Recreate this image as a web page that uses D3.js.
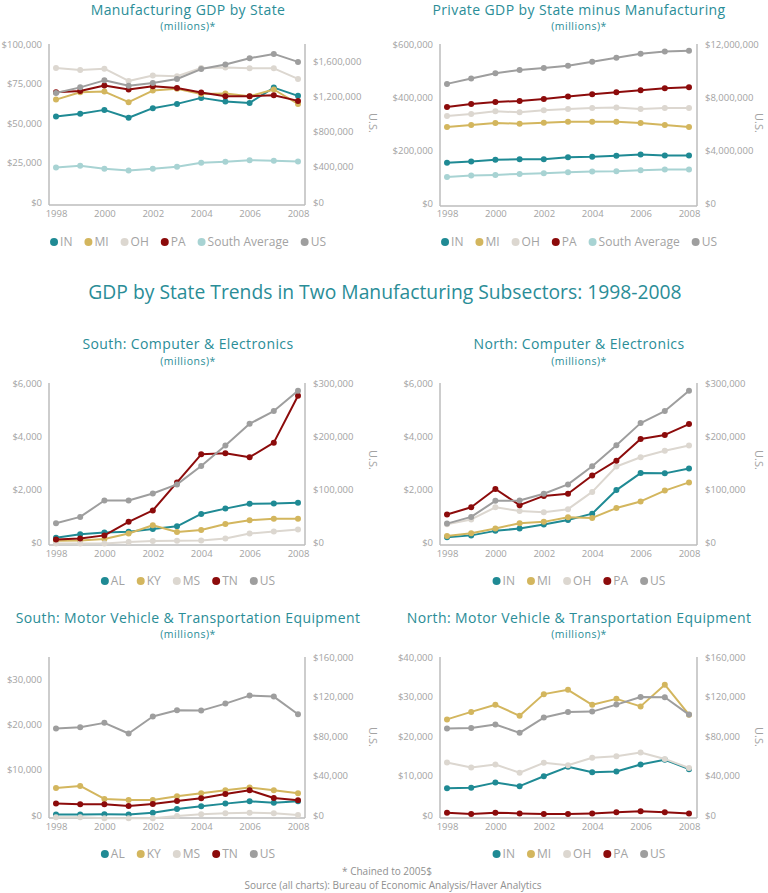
<!DOCTYPE html>
<html>
<head>
<meta charset="utf-8">
<script src="https://cdn.jsdelivr.net/npm/d3@7"></script>
<style>
  html, body { margin: 0; padding: 0; background: #fff; }
  svg { display: block; font-family: "Open Sans", "Noto Sans", sans-serif; }
</style>
</head>
<body>
<svg id="chart" width="768" height="893"></svg>
<script>
// ---------- DATA ----------
const years = [1998, 1999, 2000, 2001, 2002, 2003, 2004, 2005, 2006, 2007, 2008];
const yearTicks = [1998, 2000, 2002, 2004, 2006, 2008];

// Panel 1: Manufacturing GDP by State (millions)
const mfgIN   = [54.1, 55.8, 58.3, 53.3, 59.4, 62.1, 65.9, 63.6, 62.7, 72.4, 67.2].map(v => v * 1000);
const mfgMI   = [64.8, 69.5, 69.9, 63.2, 70.5, 71.6, 68.4, 68.6, 66.9, 71.2, 62.1].map(v => v * 1000);
const mfgOH   = [84.8, 83.6, 84.4, 76.6, 80.0, 79.6, 84.8, 85.1, 84.6, 84.6, 77.9].map(v => v * 1000);
const mfgPA   = [69.5, 70.3, 73.7, 71.2, 73.3, 72.2, 69.3, 66.9, 66.9, 67.6, 64.0].map(v => v * 1000);
const mfgSAvg = [21.9, 22.9, 21.1, 20.0, 21.1, 22.3, 24.8, 25.5, 26.5, 26.1, 25.7].map(v => v * 1000);
const mfgUS   = [1242, 1306, 1386, 1325, 1355, 1401, 1514, 1566, 1638, 1687, 1596].map(v => v * 1000);

// Panel 2: Private GDP by State minus Manufacturing (millions)
const prvIN   = [151.6, 156.6, 162.9, 165.5, 165.5, 173.1, 174.3, 178.1, 183.2, 179.4, 179.4].map(v => v * 1000);
const prvMI   = [286.7, 294.3, 301.9, 299.4, 303.2, 306.9, 306.9, 306.9, 301.9, 294.3, 286.7].map(v => v * 1000);
const prvOH   = [328.4, 336.0, 346.1, 342.3, 349.9, 354.9, 358.7, 360.0, 354.9, 358.7, 358.7].map(v => v * 1000);
const prvPA   = [362.5, 373.9, 381.5, 385.3, 392.8, 401.7, 410.5, 418.1, 425.7, 433.3, 437.1].map(v => v * 1000);
const prvSAvg = [98.5, 103.6, 106.1, 109.9, 112.4, 116.2, 118.7, 120.0, 123.8, 126.3, 126.3].map(v => v * 1000);
const prvUS   = [8.99, 9.40, 9.80, 10.03, 10.18, 10.36, 10.66, 10.96, 11.27, 11.44, 11.49].map(v => v * 1e6);

// Panel 3: South Computer & Electronics
const sceAL = [164, 290, 354, 390, 490, 590, 1060, 1260, 1440, 1450, 1480];
const sceKY = [50, 60, 110, 320, 630, 380, 450, 680, 820, 880, 880];
const sceMS = [-60, -60, -60, 0, 40, 50, 60, 130, 320, 400, 470];
const sceTN = [90, 130, 250, 760, 1190, 2250, 3310, 3350, 3200, 3750, 5520];
const sceUS = [35400, 47400, 78300, 78300, 91600, 108700, 143400, 181900, 223000, 247000, 285500];

// Panel 4: North Computer & Electronics
const nceIN = [180, 250, 420, 510, 660, 830, 1070, 1960, 2600, 2590, 2770];
const nceMI = [230, 330, 510, 710, 760, 930, 910, 1280, 1530, 1940, 2250];
const nceOH = [670, 850, 1310, 1170, 1120, 1240, 1890, 2850, 3200, 3440, 3640];
const ncePA = [1040, 1310, 2000, 1390, 1740, 1820, 2510, 3070, 3890, 4040, 4450];
const nceUS = [34700, 47400, 77700, 78300, 91000, 108700, 142800, 182600, 224300, 247000, 285500];

// Panel 5: South Motor Vehicle & Transportation Equipment
const smvAL = [100, 100, 150, 100, 520, 1330, 1930, 2520, 3040, 2740, 3040];
const smvKY = [6000, 6440, 3560, 3330, 3330, 4150, 4810, 5480, 6070, 5480, 4810];
const smvMS = [-500, -500, -700, -700, -700, -200, 150, 370, 520, 370, 0];
const smvTN = [2520, 2370, 2370, 2000, 2440, 3110, 3700, 4670, 5480, 3780, 3260];
const smvUS = [87500, 88900, 93300, 82500, 99700, 106100, 105700, 112800, 120900, 119900, 102000];

// Panel 6: North Motor Vehicle & Transportation Equipment
const nmvIN = [6800, 6900, 8200, 7300, 9800, 12200, 10800, 11000, 12800, 14000, 11600];
const nmvMI = [24200, 26100, 27900, 25100, 30600, 31700, 27900, 29400, 27500, 33000, 25400];
const nmvOH = [13300, 12000, 12800, 10700, 13200, 12600, 14500, 14900, 15800, 14200, 11900];
const nmvPA = [600, 250, 600, 400, 250, 250, 400, 670, 930, 670, 400];
const nmvUS = [87500, 88200, 91600, 83200, 98700, 104400, 104700, 111800, 119500, 119200, 101700];

// Tick values
const ticksMfgL = [0, 25000, 50000, 75000, 100000];
const ticksMfgR = [0, 400000, 800000, 1200000, 1600000];
const ticksPrvL = [0, 200000, 400000, 600000];
const ticksPrvR = [0, 4000000, 8000000, 12000000];
const ticksCeL  = [0, 2000, 4000, 6000];
const ticksCeR  = [0, 100000, 200000, 300000];
const ticksSmvL = [0, 10000, 20000, 30000];
const ticksNmvL = [0, 10000, 20000, 30000, 40000];
const ticksMvR  = [0, 40000, 80000, 120000, 160000];

// Text
const mainTitle = "GDP by State Trends in Two Manufacturing Subsectors: 1998-2008";
const subTitle = "(millions)*";
const usLabel = "U.S.";
const footnote1 = "* Chained to 2005$";
const footnote2 = "Source (all charts): Bureau of Economic Analysis/Haver Analytics";

// ---------- STYLE ----------
const C = {
  teal: "#1f8a94", gold: "#d3b65e", lgray: "#dcd7d0", red: "#8c0b0b",
  lteal: "#a8d3d3", gray: "#9e9e9e", title: "#2a8d97", text: "#a3a3a3", axis: "#bdbdbd"
};

const panels = [
  { title: "Manufacturing GDP by State", cx: 188, titleY: 14.5, subY: 29.5,
    ax0: 49, ax1: 305, xs: 56, xe: 298, yTop: 44, yZero: 202,
    lMax: 100000, lTicks: ticksMfgL, rMax: 1800000, rTicks: ticksMfgR,
    xLabY: 221, legY: 242, usX: 369, usY: 123,
    series: [
      { name: "IN", vals: mfgIN, color: C.teal },
      { name: "MI", vals: mfgMI, color: C.gold },
      { name: "OH", vals: mfgOH, color: C.lgray },
      { name: "PA", vals: mfgPA, color: C.red },
      { name: "South Average", vals: mfgSAvg, color: C.lteal },
      { name: "US", vals: mfgUS, color: C.gray, right: true } ] },
  { title: "Private GDP by State minus Manufacturing", cx: 579, titleY: 14.5, subY: 29.5,
    ax0: 440, ax1: 697, xs: 447, xe: 689, yTop: 44, yZero: 203,
    lMax: 600000, lTicks: ticksPrvL, rMax: 12000000, rTicks: ticksPrvR,
    xLabY: 221, legY: 242, usX: 755, usY: 123,
    series: [
      { name: "IN", vals: prvIN, color: C.teal },
      { name: "MI", vals: prvMI, color: C.gold },
      { name: "OH", vals: prvOH, color: C.lgray },
      { name: "PA", vals: prvPA, color: C.red },
      { name: "South Average", vals: prvSAvg, color: C.lteal },
      { name: "US", vals: prvUS, color: C.gray, right: true } ] },
  { title: "South: Computer & Electronics", cx: 188, titleY: 349, subY: 364.5,
    ax0: 49, ax1: 305, xs: 56, xe: 298, yTop: 383, yZero: 542,
    lMax: 6000, lTicks: ticksCeL, rMax: 300000, rTicks: ticksCeR,
    xLabY: 561, legY: 581, usX: 369, usY: 460,
    series: [
      { name: "AL", vals: sceAL, color: C.teal },
      { name: "KY", vals: sceKY, color: C.gold },
      { name: "MS", vals: sceMS, color: C.lgray },
      { name: "TN", vals: sceTN, color: C.red },
      { name: "US", vals: sceUS, color: C.gray, right: true } ] },
  { title: "North: Computer & Electronics", cx: 579, titleY: 349, subY: 364.5,
    ax0: 440, ax1: 697, xs: 447, xe: 689, yTop: 383, yZero: 542,
    lMax: 6000, lTicks: ticksCeL, rMax: 300000, rTicks: ticksCeR,
    xLabY: 561, legY: 581, usX: 755, usY: 460,
    series: [
      { name: "IN", vals: nceIN, color: C.teal },
      { name: "MI", vals: nceMI, color: C.gold },
      { name: "OH", vals: nceOH, color: C.lgray },
      { name: "PA", vals: ncePA, color: C.red },
      { name: "US", vals: nceUS, color: C.gray, right: true } ] },
  { title: "South: Motor Vehicle & Transportation Equipment", cx: 188, titleY: 622.5, subY: 638,
    ax0: 49, ax1: 305, xs: 56, xe: 298, yTop: 657, yZero: 815,
    lMax: 35000, lTicks: ticksSmvL, rMax: 160000, rTicks: ticksMvR,
    xLabY: 834, legY: 854, usX: 369, usY: 737,
    series: [
      { name: "AL", vals: smvAL, color: C.teal },
      { name: "KY", vals: smvKY, color: C.gold },
      { name: "MS", vals: smvMS, color: C.lgray },
      { name: "TN", vals: smvTN, color: C.red },
      { name: "US", vals: smvUS, color: C.gray, right: true } ] },
  { title: "North: Motor Vehicle & Transportation Equipment", cx: 579, titleY: 622.5, subY: 638,
    ax0: 440, ax1: 697, xs: 447, xe: 689, yTop: 657, yZero: 815,
    lMax: 40000, lTicks: ticksNmvL, rMax: 160000, rTicks: ticksMvR,
    xLabY: 834, legY: 854, usX: 755, usY: 737,
    series: [
      { name: "IN", vals: nmvIN, color: C.teal },
      { name: "MI", vals: nmvMI, color: C.gold },
      { name: "OH", vals: nmvOH, color: C.lgray },
      { name: "PA", vals: nmvPA, color: C.red },
      { name: "US", vals: nmvUS, color: C.gray, right: true } ] }
];

// ---------- DRAW ----------
const svg = d3.select("#chart");
const fmt = d3.format("$,");

svg.append("text")
  .attr("x", 385).attr("y", 299)
  .attr("text-anchor", "middle")
  .attr("fill", C.title)
  .style("font-size", "19.3px")
  .text(mainTitle);

panels.forEach(p => {
  const g = svg.append("g");
  const x = d3.scaleLinear().domain([years[0], years[years.length - 1]]).range([p.xs, p.xe]);
  const yl = d3.scaleLinear().domain([0, p.lMax]).range([p.yZero, p.yTop]);
  const yr = d3.scaleLinear().domain([0, p.rMax]).range([p.yZero, p.yTop]);
  const yBot = p.yZero + 3;

  // titles
  g.append("text").attr("x", p.cx).attr("y", p.titleY).attr("text-anchor", "middle")
    .attr("fill", C.title).style("font-size", "14px").style("letter-spacing", "0.4px").text(p.title);
  g.append("text").attr("x", p.cx).attr("y", p.subY).attr("text-anchor", "middle")
    .attr("fill", C.title).style("font-size", "10.5px").style("letter-spacing", "0.5px").text(subTitle);

  // frame lines
  g.append("line").attr("x1", p.ax0).attr("x2", p.ax0).attr("y1", p.yTop).attr("y2", yBot)
    .attr("stroke", C.axis).attr("stroke-width", 1.5);
  g.append("line").attr("x1", p.ax1).attr("x2", p.ax1).attr("y1", p.yTop).attr("y2", yBot)
    .attr("stroke", C.axis).attr("stroke-width", 1.5);
  g.append("line").attr("x1", p.ax0).attr("x2", p.ax1).attr("y1", yBot).attr("y2", yBot)
    .attr("stroke", C.axis).attr("stroke-width", 1.5);

  // axes
  const la = g.append("g").attr("transform", `translate(${p.ax0},0)`)
    .call(d3.axisLeft(yl).tickValues(p.lTicks).tickFormat(fmt).tickSize(0).tickPadding(7));
  const ra = g.append("g").attr("transform", `translate(${p.ax1},0)`)
    .call(d3.axisRight(yr).tickValues(p.rTicks).tickFormat(fmt).tickSize(0).tickPadding(8));
  const xa = g.append("g").attr("transform", `translate(0,${p.xLabY - 11})`)
    .call(d3.axisBottom(x).tickValues(yearTicks).tickFormat(d3.format("d")).tickSize(0).tickPadding(0));
  [la, ra, xa].forEach(a => {
    a.select(".domain").remove();
    a.selectAll("text").attr("fill", C.text).style("font-size", "9.5px")
      .style("font-family", "'Open Sans', sans-serif");
  });
  xa.selectAll("text").attr("dy", "0.71em");

  // U.S. label
  g.append("text").attr("transform", `translate(${p.usX},${p.usY}) rotate(90)`)
    .attr("text-anchor", "middle").attr("fill", C.text).style("font-size", "11px").text(usLabel);

  // series
  p.series.forEach(s => {
    const ys = s.right ? yr : yl;
    const line = d3.line().x((d, i) => x(years[i])).y(d => ys(d));
    g.append("path").datum(s.vals).attr("d", line).attr("fill", "none")
      .attr("stroke", s.color).attr("stroke-width", 2).attr("stroke-linejoin", "round");
    g.selectAll(null).data(s.vals).enter().append("circle")
      .attr("cx", (d, i) => x(years[i])).attr("cy", d => ys(d)).attr("r", 3)
      .attr("fill", s.color);
  });

  // legend (measured flow, centered)
  const leg = g.append("g");
  let cur = 0;
  p.series.forEach(s => {
    const it = leg.append("g").attr("transform", `translate(${cur},0)`);
    it.append("circle").attr("cx", 0).attr("cy", 0).attr("r", 4).attr("fill", s.color);
    const t = it.append("text").attr("x", 6).attr("y", 0).attr("dy", "0.35em")
      .attr("fill", C.text).style("font-size", "12px").text(s.name);
    const w = t.node().getComputedTextLength();
    cur += 6 + w + 16;
  });
  const bb = leg.node().getBBox();
  leg.attr("transform", `translate(${p.cx - bb.x - bb.width / 2},${p.legY})`);
});

svg.append("text").attr("x", 387).attr("y", 874.5).attr("text-anchor", "middle")
  .attr("fill", "#8f8f8f").style("font-size", "10px").text(footnote1);
svg.append("text").attr("x", 393).attr("y", 888.5).attr("text-anchor", "middle")
  .attr("fill", "#8f8f8f").style("font-size", "10px").text(footnote2);
</script>
</body>
</html>
